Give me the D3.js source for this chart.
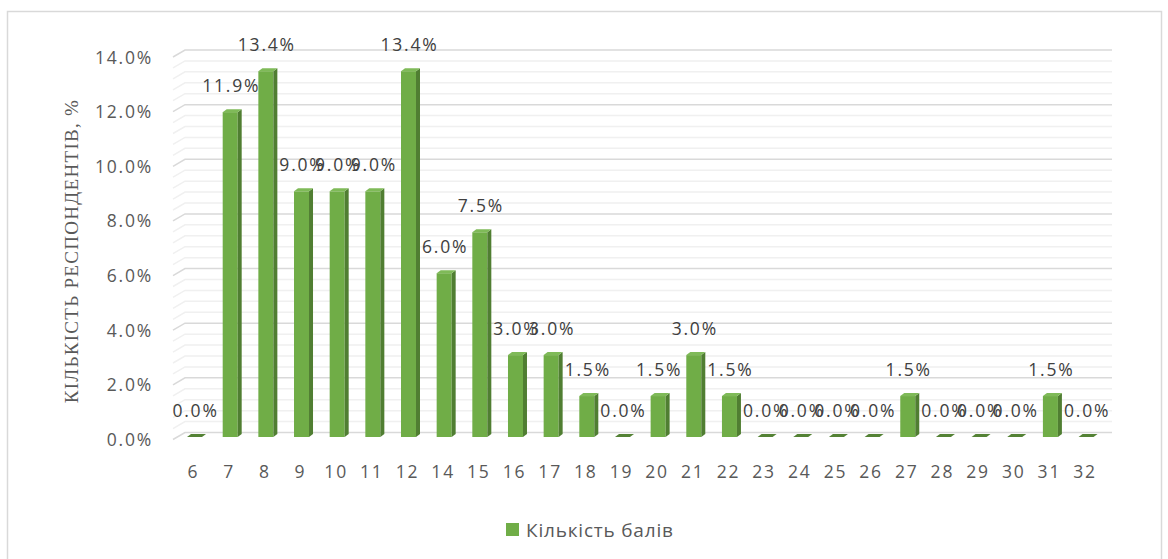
<!DOCTYPE html>
<html>
<head>
<meta charset="utf-8">
<script src="https://cdn.jsdelivr.net/npm/d3@7"></script>
<style>
  body { margin: 0; background: #fff; }
</style>
</head>
<body>
<svg id="chart" width="1168" height="559"></svg>
<script>
// Chart data
const categories = ["6", "7", "8", "9", "10", "11", "12", "14", "15", "16", "17", "18", "19",
  "20", "21", "22", "23", "24", "25", "26", "27", "28", "29", "30", "31", "32"];
const values = [0.0, 11.9, 13.4, 9.0, 9.0, 9.0, 13.4, 6.0, 7.5, 3.0, 3.0, 1.5, 0.0,
  1.5, 3.0, 1.5, 0.0, 0.0, 0.0, 0.0, 1.5, 0.0, 0.0, 0.0, 1.5, 0.0];
const yTickValues = [0, 2, 4, 6, 8, 10, 12, 14];
const seriesName = "Кількість балів";
const axisTitle = "КІЛЬКІСТЬ РЕСПОНДЕНТІВ, %";

const BAR_FRONT = "#70AD47";
const BAR_SIDE = "#507E32";
const BAR_TOP = "#7FBA58";
const BAR_FLAT = "#548235";
const TEXT_COLOR = "#595959";
const LABEL_COLOR = "#404040";
const SANS = "'Open Sans', sans-serif";
const SERIF = "'Liberation Serif', 'DejaVu Serif', serif";

const svg = d3.select("#chart");

// outer border of the chart area
svg.append("rect")
  .attr("x", 7.5).attr("y", 11.5)
  .attr("width", 1154).attr("height", 600)
  .attr("fill", "none").attr("stroke", "#D9D9D9").attr("stroke-width", 1.5);

// 3D depth offsets
const wallDx = 12, wallDy = -7;   // front -> back wall
const barDx = 4, barDy = -3;      // bar thickness
const barShift = 2, barWidth = 15;
const wallLeft = 173, wallRight = 1112;

const x = d3.scaleBand().domain(categories).range([174.7, 1101.9]);
const yFront = d3.scaleLinear().domain([0, 14]).range([439.5, 57]);
const yBar = d3.scaleLinear().domain([0, 14]).range([437, 54.8]);

// grid lines (minor every 0.4, major every 2)
const grid = svg.append("g");
const minor = d3.range(0, 14.001, 0.4).filter(v => Math.abs(v / 2 - Math.round(v / 2)) > 1e-6);
const wallPath = v => `M${wallLeft},${yFront(v)}L${wallLeft + wallDx},${yFront(v) + wallDy}L${wallRight},${yFront(v) + wallDy}`;
grid.selectAll("path.minor")
  .data(minor)
  .enter().append("path")
  .attr("class", "minor")
  .attr("d", wallPath)
  .attr("fill", "none").attr("stroke", "#F0F0F0").attr("stroke-width", 1.5);
grid.selectAll("path.major")
  .data(yTickValues)
  .enter().append("path")
  .attr("class", "major")
  .attr("d", wallPath)
  .attr("fill", "none").attr("stroke", "#D9D9D9").attr("stroke-width", 1.5);

// y tick labels
svg.append("g").selectAll("text")
  .data(yTickValues)
  .enter().append("text")
  .attr("x", 153).attr("y", v => yFront(v) + 6.5)
  .attr("text-anchor", "end")
  .attr("font-family", SANS)
  .attr("font-size", 17.5).attr("letter-spacing", 1.8)
  .attr("fill", TEXT_COLOR)
  .text(v => v.toFixed(1) + "%");

// x tick labels
svg.append("g").selectAll("text")
  .data(categories)
  .enter().append("text")
  .attr("x", d => x(d) + x.bandwidth() / 2 + 1)
  .attr("y", 478)
  .attr("text-anchor", "middle")
  .attr("font-family", SANS)
  .attr("font-size", 17.5).attr("letter-spacing", 1.8)
  .attr("fill", TEXT_COLOR)
  .text(d => d);

// axis title
svg.append("text")
  .attr("transform", "translate(78, 251) rotate(-90)")
  .attr("text-anchor", "middle")
  .attr("font-family", SERIF)
  .attr("font-size", 19).attr("letter-spacing", 1.3)
  .attr("fill", TEXT_COLOR)
  .text(axisTitle);

// bars
const rows = categories.map((c, i) => ({ cat: c, value: values[i] }));
const bars = svg.append("g").selectAll("g")
  .data(rows)
  .enter().append("g");

const bx = d => x(d.cat) + x.bandwidth() / 2 + barShift - barWidth / 2;
const base = yBar(0);

bars.append("rect")
  .attr("x", bx)
  .attr("y", d => yBar(d.value))
  .attr("width", barWidth)
  .attr("height", d => base - yBar(d.value))
  .attr("fill", BAR_FRONT);

bars.append("path")
  .attr("d", d => {
    const x0 = bx(d) + barWidth, t = yBar(d.value);
    return `M${x0},${t}L${x0 + barDx},${t + barDy}L${x0 + barDx},${base + barDy}L${x0},${base}Z`;
  })
  .attr("fill", BAR_SIDE);

bars.append("path")
  .attr("d", d => {
    const x0 = bx(d), t = yBar(d.value);
    return `M${x0},${t}L${x0 + barDx},${t + barDy}L${x0 + barWidth + barDx},${t + barDy}L${x0 + barWidth},${t}Z`;
  })
  .attr("fill", d => d.value === 0 ? BAR_FLAT : BAR_TOP);

// data labels
svg.append("g").selectAll("text")
  .data(rows)
  .enter().append("text")
  .attr("x", d => bx(d) + barWidth / 2 + 1)
  .attr("y", d => yBar(d.value) - 20)
  .attr("text-anchor", "middle")
  .attr("font-family", SANS)
  .attr("font-size", 17.5).attr("letter-spacing", 1.8)
  .attr("fill", LABEL_COLOR)
  .text(d => d.value.toFixed(1) + "%");

// legend
const legend = svg.append("g").attr("transform", "translate(506, 523)");
legend.append("rect")
  .attr("width", 13).attr("height", 13)
  .attr("fill", BAR_FRONT);
legend.append("text")
  .attr("x", 20).attr("y", 13.5)
  .attr("font-family", SANS)
  .attr("font-size", 19).attr("letter-spacing", 0.8)
  .attr("fill", TEXT_COLOR)
  .text(seriesName);
</script>
</body>
</html>
